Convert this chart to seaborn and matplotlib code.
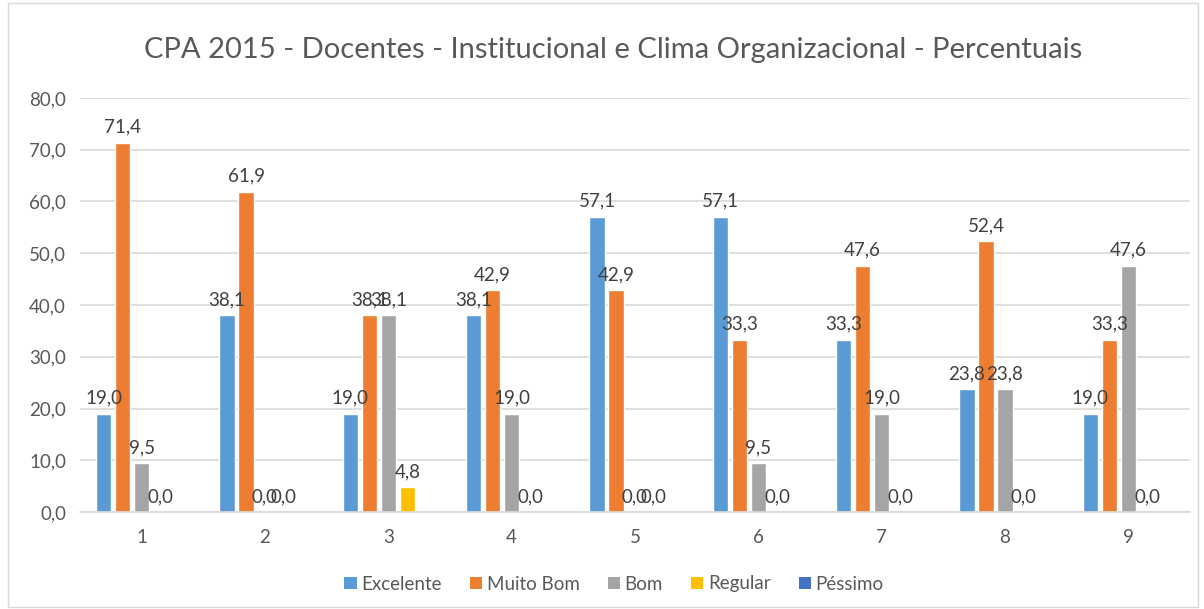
import numpy as np
import pandas as pd
import matplotlib.pyplot as plt
import seaborn as sns
from matplotlib.patches import Patch, Rectangle

# data (Péssimo has no values)
categorias = ['1', '2', '3', '4', '5', '6', '7', '8', '9']
excelente = [19.0, 38.1, 19.0, 38.1, 57.1, 57.1, 33.3, 23.8, 19.0]
muito_bom = [71.4, 61.9, 38.1, 42.9, 42.9, 33.3, 47.6, 52.4, 33.3]
bom = [9.5, 0.0, 38.1, 19.0, 0.0, 9.5, 19.0, 23.8, 47.6]
regular = [0.0, 0.0, 4.8, 0.0, 0.0, 0.0, 0.0, 0.0, 0.0]
pessimo = [np.nan] * 9

series = ['Excelente', 'Muito Bom', 'Bom', 'Regular', 'Péssimo']
cores = ['#5B9BD5', '#ED7D31', '#A5A5A5', '#FFC000', '#4472C4']

df = pd.DataFrame({'categoria': categorias, 'Excelente': excelente, 'Muito Bom': muito_bom,
                   'Bom': bom, 'Regular': regular, 'Péssimo': pessimo})
long = df.melt(id_vars='categoria', var_name='serie', value_name='valor')
long['valor'] = long['valor'].fillna(0.0)

sns.set_style("white")
plt.rcParams['font.family'] = ['Lato', 'DejaVu Sans']

fig = plt.figure(figsize=(12.04, 6.09), dpi=100)
ax = fig.add_axes([80 / 1204, 1 - 512 / 609, 1110 / 1204, 414 / 609])

sns.barplot(data=long, x='categoria', y='valor', hue='serie', hue_order=series,
            palette=cores, width=0.77, gap=0.2, ax=ax, legend=False,
            saturation=1, errorbar=None)

# data labels (skip Péssimo, which is empty)
for cont, nome in zip(ax.containers, series):
    if nome == 'Péssimo':
        continue
    labels = [f"{b.get_height():.1f}".replace('.', ',') for b in cont]
    ax.bar_label(cont, labels=labels, padding=5, fontsize=13.5, color='#404040')

ax.set_ylim(0, 80)
ax.set_yticks(np.arange(0, 81, 10))
ax.set_yticklabels([f"{v:.1f}".replace('.', ',') for v in np.arange(0, 81, 10)])
ax.yaxis.grid(True, color='#D9D9D9', linewidth=1.2)
ax.set_axisbelow(True)
for s in ['top', 'right', 'left']:
    ax.spines[s].set_visible(False)
ax.spines['bottom'].set_color('#D9D9D9')
ax.spines['bottom'].set_linewidth(1.2)
ax.tick_params(axis='y', length=0, labelsize=13.5, labelcolor='#595959', pad=10)
ax.tick_params(axis='x', length=0, labelsize=13.5, labelcolor='#595959', pad=12)
ax.set_xlabel('')
ax.set_ylabel('')

fig.text(0.509, 1 - 50 / 609, 'CPA 2015 - Docentes - Institucional e Clima Organizacional - Percentuais',
         ha='center', va='center', fontsize=21, color='#595959')

handles = [Patch(facecolor=c, edgecolor='none') for c in cores]
fig.legend(handles, series, loc='center', bbox_to_anchor=(0.51, 1 - 584 / 609), ncol=5,
           frameon=False, fontsize=13.5, labelcolor='#595959', handlelength=0.65,
           handleheight=0.65, handletextpad=0.25, columnspacing=1.5)

fig.patches.append(Rectangle((8 / 1204, 2 / 609), 1190 / 1204, 604 / 609, transform=fig.transFigure,
                             fill=False, edgecolor='#D9D9D9', linewidth=1))

fig.savefig('out.png', dpi=100)
